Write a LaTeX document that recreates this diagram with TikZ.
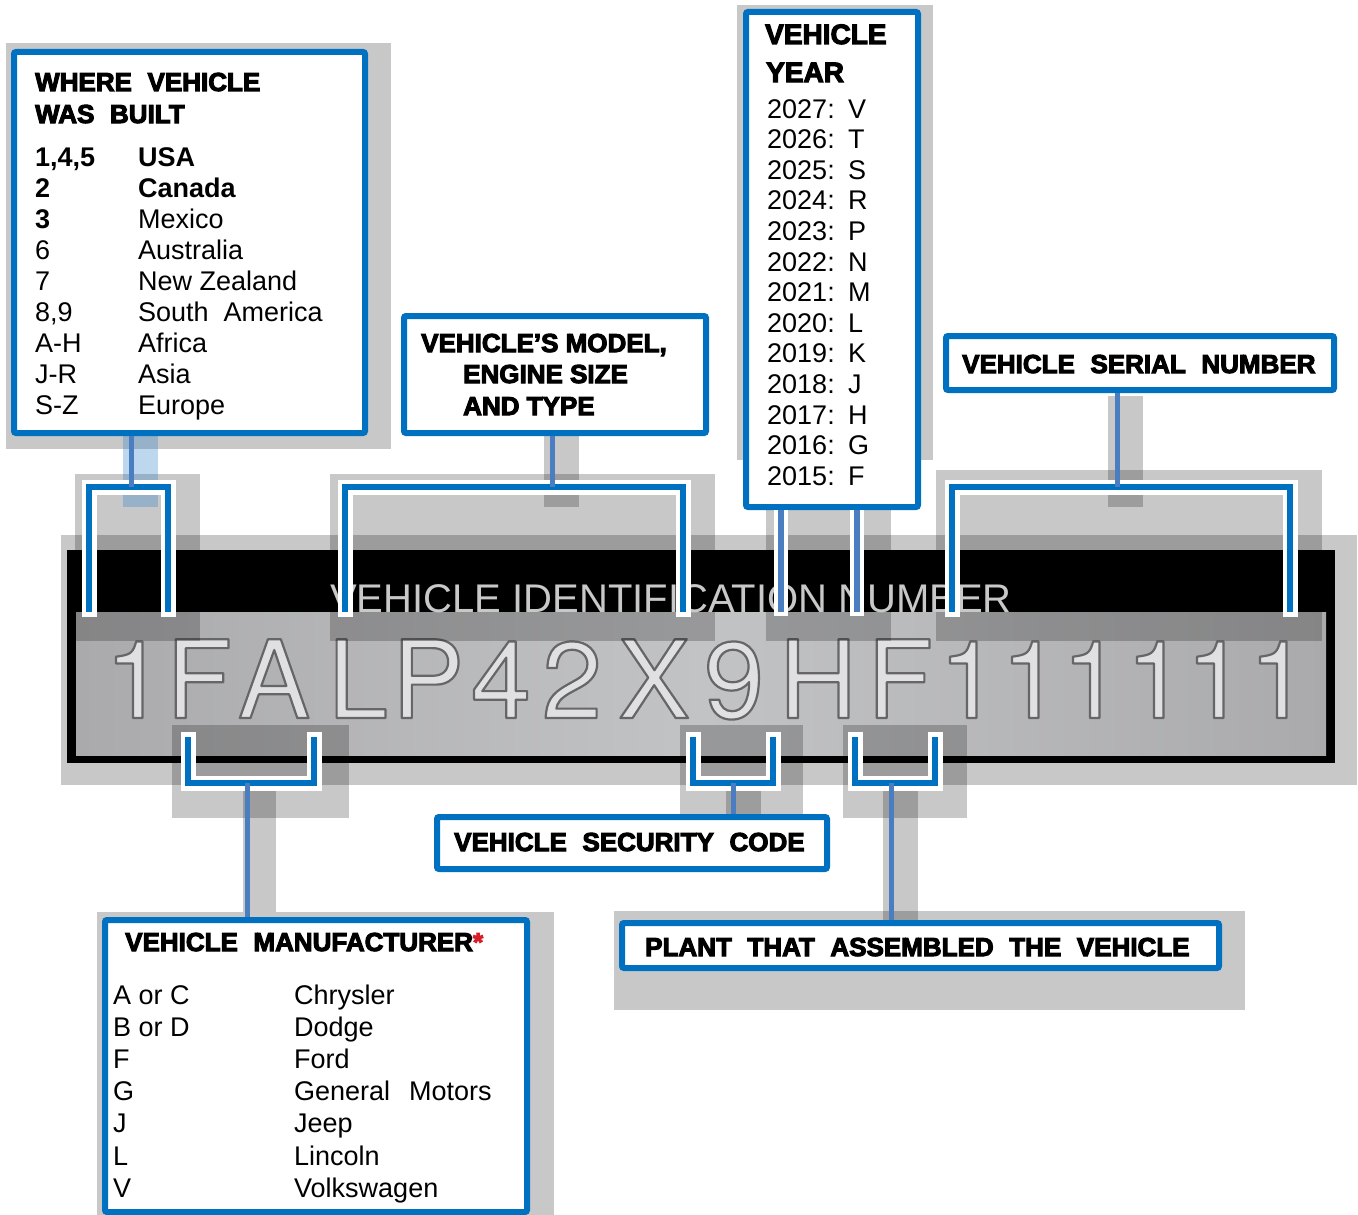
\documentclass[tikz,border=0pt]{standalone}
\usepackage{fontspec}
\setmainfont{Liberation Sans}
\newfontfamily\headfont[FakeBold=4]{Liberation Sans Bold}
\newfontfamily\vinfont{TeX Gyre Heros}
\definecolor{vinblue}{RGB}{0,112,192}
\definecolor{leadblue}{RGB}{74,126,193}
\definecolor{shadegray}{RGB}{200,200,200}
\definecolor{plateA}{RGB}{170,170,172}
\definecolor{plateB}{RGB}{194,195,197}
\definecolor{embface}{RGB}{224,224,226}
\definecolor{vintitle}{RGB}{200,200,200}
\definecolor{mkred}{RGB}{215,30,40}
\definecolor{wmiblue}{RGB}{35,122,198}
\newcommand{\wsp}{\hspace{0.6em}}
\newcommand{\embch}[1]{{\color{embface}\special{pdf:code q 2 Tr 0.40 0.40 0.41 RG 2.2 w 1 j}#1\special{pdf:code Q}}}

\begin{document}
\begin{tikzpicture}[x=1pt, y=-1pt,
  box/.style={draw=vinblue, line width=6pt, fill=white, rounded corners=2pt, inner sep=0pt, outer sep=0pt},
  hdr/.style={font=\headfont\fontsize{26}{31}\selectfont, anchor=base west, inner sep=0pt},
  txt/.style={font=\fontsize{27}{31}\selectfont, anchor=base west, inner sep=0pt},
  emb/.style={font=\vinfont\fontsize{108}{108}\selectfont, anchor=base, inner sep=0pt},
  dimmer/.style={fill=black, fill opacity=0.216},
  halo/.style={draw=white, line width=15pt},
  brk/.style={draw=vinblue, line width=6pt},
  lead/.style={draw=leadblue, line width=5pt}]
  \useasboundingbox (0,0) rectangle (1358,1215);

  % shadows behind the boxes
  \fill[dimmer] (6,43) rectangle (391,449);
  \fill[dimmer] (737,5) rectangle (933,460);
  \fill[dimmer] (97,912) rectangle (554,1215);
  \fill[dimmer] (614,911) rectangle (1245,1010);

  % the plate
  \fill[shadegray] (61,535) rectangle (1357,785);
  \fill[black] (67,550) rectangle (1335,763);
  \shade[left color=plateA, right color=plateA, middle color=plateB] (76,612) rectangle (1326,755);
  \foreach \ch/\cx [count=\k] in {1/135, F/199, A/274, L/358, P/428, 4/501, 2/572, X/654, 9/734,
      H/818, F/900, 1/969, 1/1031, 1/1092, 1/1156, 1/1216, 1/1279} {
    \node[emb] (ch\k) at (\cx,718) {\embch{\ch}};
  }

  % highlight areas
  \fill[dimmer] (75,474) rectangle (200,641);
  \fill[dimmer] (330,474) rectangle (715,641);
  \fill[dimmer] (766,510) rectangle (891,641);
  \fill[dimmer] (936,470) rectangle (1322,641);
  \fill[dimmer] (172,725) rectangle (349,818);
  \fill[dimmer] (680,725) rectangle (803,818);
  \fill[dimmer] (843,725) rectangle (967,818);
  \fill[wmiblue, fill opacity=0.3] (123,436) rectangle (158,507);
  \fill[dimmer] (544,436) rectangle (579,507);
  \fill[dimmer] (1108,396) rectangle (1143,507);
  \fill[dimmer] (243,783) rectangle (276,912);
  \fill[dimmer] (726,783) rectangle (761,837);
  \fill[dimmer] (883,783) rectangle (918,920);

  \node[font=\fontsize{40}{40}\selectfont, text=vintitle, anchor=base west, inner sep=0pt]
    (vintxt) at (330,612) {VEHICLE IDENTIFICATION NUMBER};

  % brackets
  \foreach \xl/\xr in {89/168, 345/683, 952/1290} {
    \draw[halo] (\xl,617) -- (\xl,487) -- (\xr,487) -- (\xr,617);
    \draw[brk] (\xl,612) -- (\xl,487) -- (\xr,487) -- (\xr,612);
  }
  \foreach \xl/\xr in {188/314, 693/773, 855/935} {
    \draw[halo] (\xl,732) -- (\xl,783) -- (\xr,783) -- (\xr,732);
    \draw[brk] (\xl,737) -- (\xl,783) -- (\xr,783) -- (\xr,737);
  }
  \coordinate (wmi) at (131,487);
  \coordinate (mdl) at (552,487);
  \coordinate (yrA) at (781,612);
  \coordinate (yrB) at (857,612);
  \coordinate (ser) at (1117,487);
  \coordinate (mfr) at (247,783);
  \coordinate (sec) at (733,783);
  \coordinate (plt) at (891,783);

  % boxes
  \node[box, minimum width=351pt, minimum height=381pt] (where) at (189.5,242.5) {};
  \node[box, minimum width=302pt, minimum height=117pt] (model) at (555,374.5) {};
  \node[box, minimum width=172pt, minimum height=495pt] (year) at (832,259.5) {};
  \node[box, minimum width=388pt, minimum height=54pt] (serial) at (1140,363) {};
  \node[box, minimum width=390pt, minimum height=52pt] (secbox) at (632,843) {};
  \node[box, minimum width=422pt, minimum height=292pt] (maker) at (316,1066) {};
  \node[box, minimum width=597pt, minimum height=45pt] (plant) at (920.5,945.5) {};

  % leads
  \draw[lead, shorten <=3pt] (where.south -| wmi) -- (wmi);
  \draw[lead, shorten <=3pt] (model.south -| mdl) -- (mdl);
  \draw[lead, shorten <=3pt] (serial.south -| ser) -- (ser);
  \draw[lead, shorten <=3pt] (secbox.north -| sec) -- (sec);
  \draw[lead, shorten <=3pt] (maker.north -| mfr) -- (mfr);
  \draw[lead, shorten <=3pt] (plant.north -| plt) -- (plt);
  \foreach \c in {yrA, yrB} {
    \draw[halo, line width=14pt, shorten <=3pt, shorten >=-4pt] (year.south -| \c) -- (\c);
    \draw[lead, line width=6pt, shorten <=3pt] (year.south -| \c) -- (\c);
  }

  % where vehicle was built
  \node[hdr] (whereA) at (35,91) {WHERE\wsp VEHICLE};
  \node[hdr] (whereB) at (35,123) {WAS\wsp BUILT};
  \foreach \code/\land [count=\i from 0] in {{\bfseries 1,4,5}/{\bfseries USA}, {\bfseries 2}/{\bfseries Canada},
      {\bfseries 3}/Mexico, 6/Australia, 7/New Zealand, {8,9}/{South\ \ America}, A-H/Africa, J-R/Asia, S-Z/Europe} {
    \node[txt] (wc\i) at (35,166+31*\i) {\code};
    \node[txt] (wl\i) at (138,166+31*\i) {\land};
  }

  % model
  \node[hdr] (modelA) at (421,352) {VEHICLE’S MODEL,};
  \node[hdr] (modelB) at (463,383) {ENGINE SIZE};
  \node[hdr] (modelC) at (463,415) {AND TYPE};

  % year
  \node[hdr, font=\headfont\fontsize{28}{31}\selectfont] (yearA) at (765,44) {VEHICLE};
  \node[hdr, font=\headfont\fontsize{28}{31}\selectfont] (yearB) at (766,82) {YEAR};
  \foreach \yr/\ltr [count=\i from 0] in {2027/V, 2026/T, 2025/S, 2024/R, 2023/P, 2022/N, 2021/M,
      2020/L, 2019/K, 2018/J, 2017/H, 2016/G, 2015/F} {
    \node[txt] (yn\i) at (767,118+30.6*\i) {\yr:};
    \node[txt] (yc\i) at (848,118+30.6*\i) {\ltr};
  }

  \node[hdr] (serialtxt) at (962,373) {VEHICLE\wsp SERIAL\wsp NUMBER};
  \node[hdr] (sectxt) at (454,851) {VEHICLE\wsp SECURITY\wsp CODE};
  \node[hdr] (planttxt) at (645,956) {PLANT\wsp THAT\wsp ASSEMBLED\wsp THE\wsp VEHICLE};

  % manufacturer
  \node[hdr] (makertxt) at (125,951) {VEHICLE\wsp MANUFACTURER\textcolor{mkred}{*}};
  \foreach \code/\name [count=\i from 0] in {A or C/Chrysler, B or D/Dodge, F/Ford,
      G/{General\hspace{0.7em}Motors}, J/Jeep, L/Lincoln, V/Volkswagen} {
    \node[txt] (mc\i) at (113,1004+32.2*\i) {\code};
    \node[txt] (mn\i) at (294,1004+32.2*\i) {\name};
  }
\end{tikzpicture}
\end{document}
